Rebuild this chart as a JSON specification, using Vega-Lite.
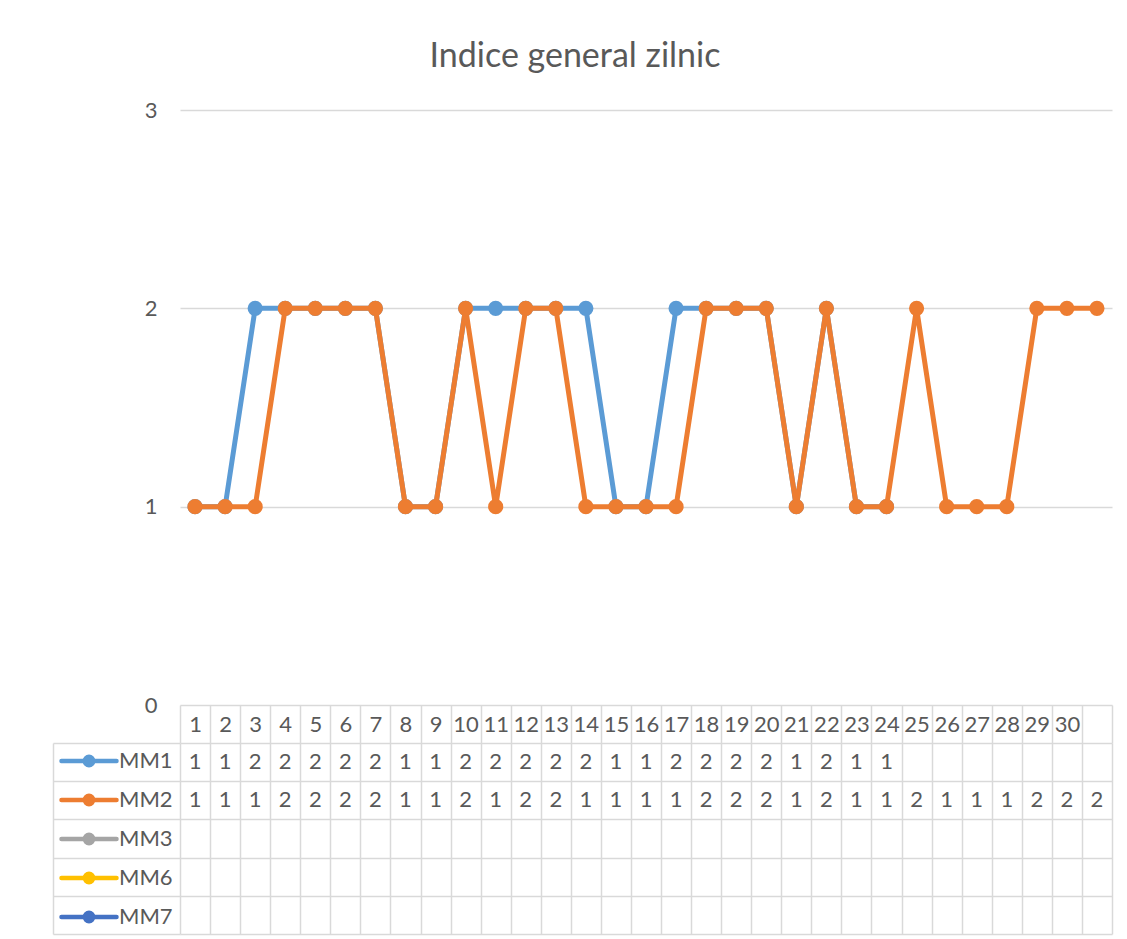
{
  "$schema": "https://vega.github.io/schema/vega-lite/v6.json",
  "background": "white",
  "padding": {"left": 52, "top": 40, "right": 5, "bottom": 5},
  "title": {"text": "Indice general zilnic", "font": "Lato", "fontSize": 34, "fontWeight": "normal", "color": "#595959", "anchor": "middle", "frame": "group", "dx": -71, "offset": 25},
  "datasets": {
    "series": [
      {"s": "MM1", "day": 1, "v": 1}, {"s": "MM1", "day": 2, "v": 1}, {"s": "MM1", "day": 3, "v": 2}, {"s": "MM1", "day": 4, "v": 2},
      {"s": "MM1", "day": 5, "v": 2}, {"s": "MM1", "day": 6, "v": 2}, {"s": "MM1", "day": 7, "v": 2}, {"s": "MM1", "day": 8, "v": 1},
      {"s": "MM1", "day": 9, "v": 1}, {"s": "MM1", "day": 10, "v": 2}, {"s": "MM1", "day": 11, "v": 2}, {"s": "MM1", "day": 12, "v": 2},
      {"s": "MM1", "day": 13, "v": 2}, {"s": "MM1", "day": 14, "v": 2}, {"s": "MM1", "day": 15, "v": 1}, {"s": "MM1", "day": 16, "v": 1},
      {"s": "MM1", "day": 17, "v": 2}, {"s": "MM1", "day": 18, "v": 2}, {"s": "MM1", "day": 19, "v": 2}, {"s": "MM1", "day": 20, "v": 2},
      {"s": "MM1", "day": 21, "v": 1}, {"s": "MM1", "day": 22, "v": 2}, {"s": "MM1", "day": 23, "v": 1}, {"s": "MM1", "day": 24, "v": 1},
      {"s": "MM2", "day": 1, "v": 1}, {"s": "MM2", "day": 2, "v": 1}, {"s": "MM2", "day": 3, "v": 1}, {"s": "MM2", "day": 4, "v": 2},
      {"s": "MM2", "day": 5, "v": 2}, {"s": "MM2", "day": 6, "v": 2}, {"s": "MM2", "day": 7, "v": 2}, {"s": "MM2", "day": 8, "v": 1},
      {"s": "MM2", "day": 9, "v": 1}, {"s": "MM2", "day": 10, "v": 2}, {"s": "MM2", "day": 11, "v": 1}, {"s": "MM2", "day": 12, "v": 2},
      {"s": "MM2", "day": 13, "v": 2}, {"s": "MM2", "day": 14, "v": 1}, {"s": "MM2", "day": 15, "v": 1}, {"s": "MM2", "day": 16, "v": 1},
      {"s": "MM2", "day": 17, "v": 1}, {"s": "MM2", "day": 18, "v": 2}, {"s": "MM2", "day": 19, "v": 2}, {"s": "MM2", "day": 20, "v": 2},
      {"s": "MM2", "day": 21, "v": 1}, {"s": "MM2", "day": 22, "v": 2}, {"s": "MM2", "day": 23, "v": 1}, {"s": "MM2", "day": 24, "v": 1},
      {"s": "MM2", "day": 25, "v": 2}, {"s": "MM2", "day": 26, "v": 1}, {"s": "MM2", "day": 27, "v": 1}, {"s": "MM2", "day": 28, "v": 1},
      {"s": "MM2", "day": 29, "v": 2}, {"s": "MM2", "day": 30, "v": 2}, {"s": "MM2", "day": 31, "v": 2}
    ]
  },
  "spacing": 38,
  "bounds": "flush",
  "resolve": {"scale": {"x": "independent", "y": "independent"}},
  "vconcat": [
    {
      "width": 932,
      "height": 595,
      "data": {"name": "series"},
      "encoding": {
        "x": {"field": "day", "type": "ordinal", "scale": {"type": "point", "padding": 0.5, "domain": [1,2,3,4,5,6,7,8,9,10,11,12,13,14,15,16,17,18,19,20,21,22,23,24,25,26,27,28,29,30,31]}, "axis": null},
        "y": {"field": "v", "type": "quantitative", "scale": {"domain": [0, 3], "nice": false},
          "axis": {"values": [0, 1, 2, 3], "title": null, "domain": false, "ticks": false, "gridColor": "#d9d9d9", "gridWidth": 1.5, "labelFont": "Lato", "labelFontSize": 22, "labelColor": "#595959", "labelPadding": 23}},
        "color": {"field": "s", "type": "nominal",
          "scale": {"domain": ["MM1", "MM2", "MM3", "MM6", "MM7"], "range": ["#5b9bd5", "#ed7d31", "#a5a5a5", "#ffc000", "#4472c4"]},
          "legend": {
            "orient": "none", "legendX": -102, "legendY": 640, "title": null, "padding": 0, "offset": 0,
            "rowPadding": 11, "labelOffset": 19, "labelFont": "Lato", "labelFontSize": 22, "labelColor": "#595959",
            "symbolType": "M-3.93,0L3.93,0M0.6,0A0.6,0.6,0,1,1,-0.6,0A0.6,0.6,0,1,1,0.6,0Z",
            "symbolSize": 196, "symbolStrokeWidth": 4.5,
            "encode": {"symbols": {"update": {"fill": {"scale": "color", "field": "value"}, "stroke": {"scale": "color", "field": "value"}, "strokeWidth": {"value": 4.5}, "strokeCap": {"value": "round"}, "opacity": {"value": 1}}}}
          }}
      },
      "layer": [
        {"transform": [{"filter": "datum.s === 'MM1'"}],
         "mark": {"type": "line", "strokeWidth": 5, "strokeJoin": "round", "strokeCap": "round", "point": {"filled": true, "size": 230, "opacity": 1}}},
        {"transform": [{"filter": "datum.s === 'MM2'"}],
         "mark": {"type": "line", "strokeWidth": 5, "strokeJoin": "round", "strokeCap": "round", "point": {"filled": true, "size": 230, "opacity": 1}}}
      ]
    },
    {
      "width": 932,
      "height": 191,
      "data": {"name": "series"},
      "layer": [
        {
          "mark": {"type": "text", "font": "Lato", "fontSize": 22, "color": "#595959"},
          "encoding": {
            "x": {"field": "day", "type": "ordinal",
              "scale": {"type": "band", "paddingInner": 0, "paddingOuter": 0, "domain": [1,2,3,4,5,6,7,8,9,10,11,12,13,14,15,16,17,18,19,20,21,22,23,24,25,26,27,28,29,30,31]},
              "axis": {"orient": "top", "title": null, "tickBand": "extent", "domain": false, "ticks": true, "tickSize": 38, "tickColor": "#d9d9d9", "tickWidth": 1.5,
                "grid": true, "gridColor": "#d9d9d9", "gridWidth": 1.5, "labelAngle": 0, "labelFont": "Lato", "labelFontSize": 22, "labelColor": "#595959",
                "labelBaseline": "middle", "labelPadding": -19, "labelExpr": "datum.value > 30 ? '' : datum.label"}},
            "y": {"field": "s", "type": "nominal",
              "scale": {"domain": ["MM1", "MM2", "MM3", "MM6", "MM7"], "paddingInner": 0, "paddingOuter": 0},
              "axis": {"title": null, "tickBand": "extent", "domain": false, "ticks": true, "tickSize": 127, "tickColor": "#d9d9d9", "tickWidth": 1.5,
                "grid": true, "gridColor": "#d9d9d9", "gridWidth": 1.5, "labels": false}},
            "text": {"field": "v", "type": "quantitative"}
          }
        },
        {
          "mark": {"type": "text", "opacity": 0},
          "encoding": {
            "y": {"field": "s", "type": "nominal",
              "axis": {"orient": "left", "offset": 127, "title": null, "domain": true, "domainColor": "#d9d9d9", "domainWidth": 1.5, "ticks": false, "labels": false, "grid": false}},
            "text": {"value": ""}
          }
        }
      ],
      "resolve": {"axis": {"y": "independent"}}
    }
  ],
  "config": {"view": {"stroke": null}}
}
